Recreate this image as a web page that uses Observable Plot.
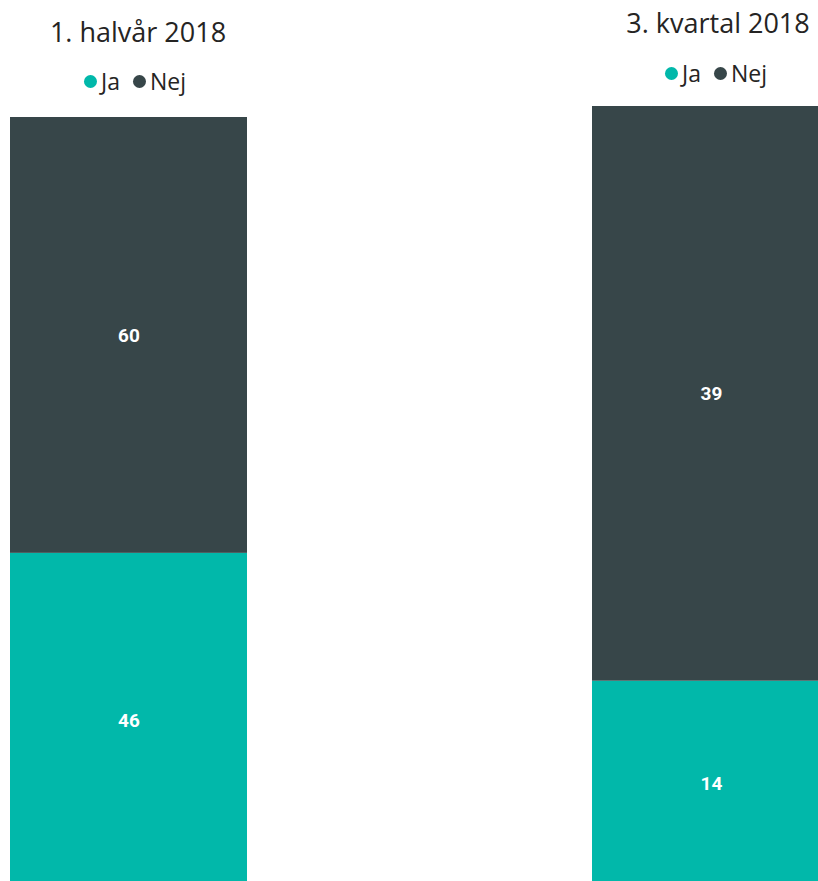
<!DOCTYPE html>
<html>
<head>
<meta charset="utf-8">
<script src="https://cdn.jsdelivr.net/npm/d3@7"></script>
<script src="https://cdn.jsdelivr.net/npm/@observablehq/plot@0.6"></script>
<style>
  html, body { margin: 0; padding: 0; background: #fff; }
  body { width: 818px; height: 881px; overflow: hidden; position: relative; font-family: "Open Sans", sans-serif; }
  .title { position: absolute; font-size: 27px; color: #252423; white-space: nowrap; transform: translateX(-50%); line-height: 1; }
  .legend { position: absolute; font-size: 23px; color: #252423; white-space: nowrap; transform: translateX(-50%); line-height: 1; display: flex; align-items: center; }
  .dot { display: inline-block; width: 13px; height: 13px; border-radius: 50%; margin-right: 4px; }
  .item { display: inline-flex; align-items: center; margin-right: 13px; }
  .item:last-child { margin-right: 0; }
  .chart { position: absolute; }
  .chart svg { display: block; overflow: visible; max-width: none !important; }
</style>
</head>
<body>
<script>
const answers = ["Ja", "Nej"];
const colors = ["#01B8AA", "#374649"];
const titles = ["1. halvår 2018", "3. kvartal 2018"];
const valuesH1 = [46, 60];
const valuesQ3 = [14, 39];

const panels = [
  {title: titles[0], values: valuesH1, titleX: 138, titleY: 18, legendX: 135, legendY: 70, left: 10, top: 117, width: 237, height: 770},
  {title: titles[1], values: valuesQ3, titleX: 718, titleY: 9, legendX: 716, legendY: 62, left: 592, top: 106, width: 238, height: 781}
];

for (const p of panels) {
  const t = document.createElement("div");
  t.className = "title";
  t.textContent = p.title;
  t.style.left = p.titleX + "px";
  t.style.top = p.titleY + "px";
  document.body.appendChild(t);

  const lg = document.createElement("div");
  lg.className = "legend";
  lg.style.left = p.legendX + "px";
  lg.style.top = p.legendY + "px";
  answers.forEach((a, i) => {
    const it = document.createElement("span");
    it.className = "item";
    const d = document.createElement("span");
    d.className = "dot";
    d.style.background = colors[i];
    it.appendChild(d);
    it.appendChild(document.createTextNode(a));
    lg.appendChild(it);
  });
  document.body.appendChild(lg);

  const data = answers.map((a, i) => ({answer: a, value: p.values[i]}));
  const total = d3.sum(p.values);
  const chart = Plot.plot({
    width: p.width,
    height: p.height,
    margin: 0,
    style: {maxWidth: "none", overflow: "visible"},
    x: {axis: null},
    y: {axis: null, domain: [0, total]},
    color: {domain: answers, range: colors},
    marks: [
      Plot.barY(data, {y: "value", fill: "answer"}),
      Plot.text(data, Plot.stackY({y: "value", text: "value", fill: "white", fontSize: 19, fontWeight: "bold", fontFamily: "Roboto, sans-serif"}))
    ]
  });
  const wrap = document.createElement("div");
  wrap.className = "chart";
  wrap.style.left = p.left + "px";
  wrap.style.top = p.top + "px";
  wrap.style.width = p.width + "px";
  wrap.style.height = p.height + "px";
  wrap.appendChild(chart);
  document.body.appendChild(wrap);
}
</script>
</body>
</html>
